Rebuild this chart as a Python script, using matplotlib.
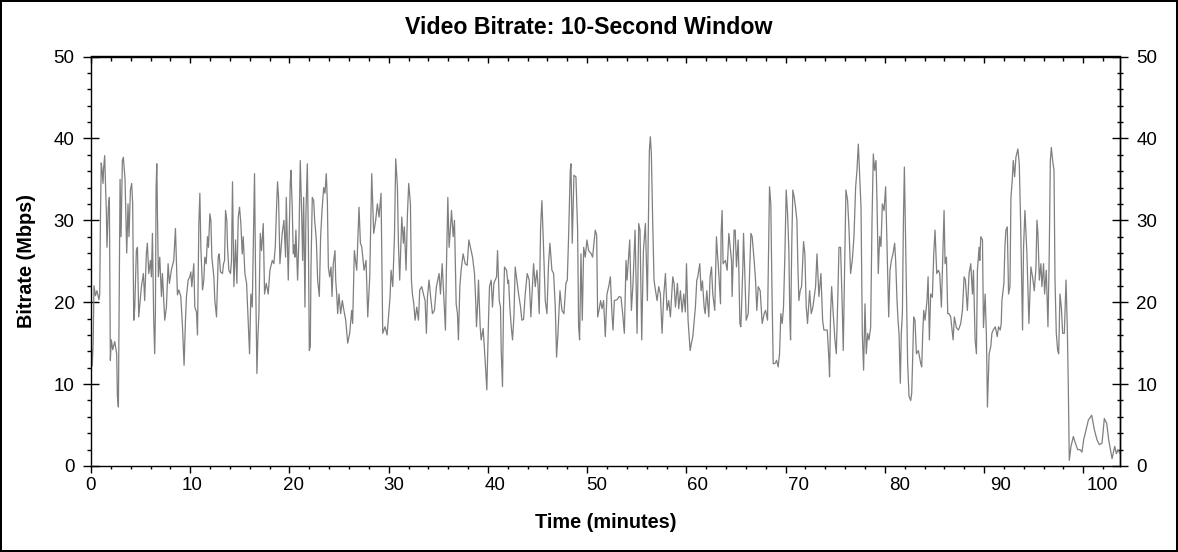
import matplotlib
matplotlib.use("Agg")
import matplotlib.pyplot as plt
from matplotlib.ticker import MultipleLocator

plt.rcParams['font.family'] = ['Liberation Sans', 'DejaVu Sans']

# ---- data: time (minutes) and 10-second-window bitrate (Mbps) ----
t_00 = [0.00,0.12,0.22,0.30,0.45,0.60,0.80,0.88,0.95,1.03,1.11,1.21,1.28,1.38,1.45,1.55,1.61,1.75,1.85,1.95,
        2.05,2.19,2.39,2.59,2.66,2.76,2.83,2.93,3.03,3.16,3.26,3.43,3.60,3.73,3.83,3.97,4.10,4.20,4.31,4.41,
        4.57,4.68,4.81,5.08,5.28,5.41,5.58,5.68,5.82,5.99,6.09,6.19,6.32,6.42,6.49,6.56,6.63,6.69,6.79,6.93,
        7.10,7.20,7.43,7.60,7.77,7.90,8.11,8.34,8.51,8.61,8.71,8.85,9.05,9.22,9.38,9.52,9.62,9.79,9.96]
v_00 = [15.5,12.2,15.0,22.0,20.8,21.4,20.3,21.0,30.0,37.0,36.2,34.5,36.5,37.9,34.8,31.0,26.7,31.6,32.8,12.9,
        15.4,14.2,15.2,13.7,8.5,7.2,19.0,35.0,28.0,37.3,37.7,35.0,26.0,32.0,28.0,33.7,34.5,32.0,17.8,19.4,
        26.3,26.7,18.2,21.9,23.5,20.2,25.9,27.2,23.5,25.1,23.1,28.4,17.8,13.7,18.6,34.0,36.9,31.2,23.1,25.5,
        20.7,23.5,17.8,19.4,24.7,22.3,24.0,25.1,29.0,25.1,20.9,21.5,20.7,17.0,12.3,17.8,20.7,22.7,23.1]

t_10 = [10.06,10.16,10.36,10.46,10.63,10.73,10.87,10.97,11.07,11.24,11.37,11.47,11.61,11.74,11.84,11.98,12.08,12.18,12.38,12.48,
        12.65,12.82,12.92,13.05,13.25,13.36,13.46,13.56,13.69,13.76,13.89,14.06,14.16,14.26,14.40,14.57,14.70,14.84,14.97,15.10,
        15.24,15.34,15.51,15.68,15.78,15.98,16.11,16.25,16.35,16.48,16.58,16.72,16.82,16.92,17.06,17.19,17.36,17.49,17.66,17.86,
        18.03,18.27,18.43,18.57,18.70,18.80,18.90,19.04,19.14,19.27,19.44,19.61,19.68,19.88]
v_10 = [23.7,21.9,24.7,19.4,18.8,16.0,29.6,33.3,26.7,21.5,22.7,25.5,24.7,28.0,26.7,30.8,30.0,25.5,23.1,20.2,
        18.2,25.5,25.9,23.7,23.5,24.7,25.1,31.2,30.0,26.7,23.9,23.5,25.1,34.7,21.9,27.6,22.3,30.4,31.6,29.6,
        25.9,28.0,23.5,22.3,19.4,13.7,21.0,19.4,26.7,35.7,23.9,11.3,15.8,18.6,28.4,26.3,29.6,21.0,22.3,21.0,
        23.9,25.1,24.7,26.7,31.6,34.7,32.8,24.7,26.3,28.4,30.0,25.5,32.8,22.7]

t_20 = [20.08,20.15,20.28,20.38,20.49,20.55,20.65,20.82,20.96,21.09,21.23,21.33,21.43,21.56,21.66,21.80,21.90,22.00,22.10,22.17,
        22.30,22.44,22.54,22.71,22.84,23.01,23.14,23.28,23.45,23.58,23.71,23.82,23.92,24.05,24.19,24.29,24.42,24.59,24.66,24.76,
        24.86,24.99,25.16,25.33,25.46,25.67,25.87,26.07,26.27,26.37,26.54,26.78,27.01,27.15,27.28,27.52,27.72,27.89,28.09,28.29,
        28.49,28.69,28.86,29.03,29.23,29.40,29.63,29.84,30.14]
v_20 = [34.5,36.1,31.6,25.9,27.0,25.5,28.8,22.7,28.0,37.3,30.8,25.1,32.8,19.4,30.8,36.9,28.4,14.1,14.6,24.3,
        32.8,32.4,30.0,27.6,22.7,20.7,28.0,31.2,34.0,33.3,35.7,32.4,24.3,23.1,24.3,20.7,24.7,26.3,22.7,21.0,
        18.6,21.0,18.6,20.2,19.2,17.8,15.0,16.2,19.0,17.4,26.3,23.9,31.6,27.2,26.8,23.9,25.1,18.2,23.1,35.7,
        28.4,30.0,32.0,30.4,33.3,16.2,17.0,16.0,20.7]

t_30 = [30.24,30.41,30.58,30.71,30.88,30.98,31.11,31.32,31.48,31.58,31.75,31.89,32.02,32.19,32.29,32.39,32.53,32.66,32.83,33.00,
        33.13,33.33,33.50,33.67,33.80,33.91,34.07,34.24,34.41,34.61,34.81,35.08,35.22,35.39,35.55,35.72,35.82,35.96,36.09,36.23,
        36.33,36.50,36.63,36.80,36.93,37.03,37.17,37.30,37.50,37.71,37.91,38.08,38.24,38.45,38.65,38.78,38.85,38.98,39.05,39.22,
        39.32,39.52,39.72,39.89,40.06]
v_30 = [23.9,21.9,28.0,37.5,34.1,27.2,22.7,30.4,27.2,29.2,23.9,30.8,34.5,32.0,22.7,21.0,19.8,17.8,19.4,17.8,
        21.5,21.9,21.0,20.2,16.2,20.7,22.7,20.5,18.6,19.0,21.9,23.5,21.0,24.7,20.8,16.6,24.3,32.8,26.7,29.2,
        31.2,28.0,30.0,19.8,18.6,15.4,21.9,23.9,25.9,24.7,24.5,27.6,26.7,25.5,23.5,19.8,17.0,20.2,22.7,17.0,
        15.4,16.8,12.9,9.3,17.8]

t_40 = [40.16,40.33,40.46,40.60,40.73,40.87,40.97,41.14,41.27,41.34,41.47,41.57,41.67,41.88,42.01,42.08,42.21,42.35,42.48,42.62,
        42.75,42.92,43.09,43.29,43.42,43.59,43.76,43.96,44.16,44.33,44.47,44.60,44.77,44.94,45.04,45.17,45.31,45.44,45.58,45.78,
        45.95,46.11,46.25,46.45,46.62,46.79,46.92,47.06,47.26,47.46,47.66,47.86,48.00,48.13,48.30,48.37,48.50,48.67,48.87,49.04,
        49.14,49.24,49.38,49.51,49.65,49.81,49.98,50.15]
v_40 = [21.9,22.7,19.4,22.3,22.7,23.1,26.3,20.2,19.4,14.1,9.7,19.4,24.3,23.9,22.3,22.7,19.4,17.0,15.4,18.2,
        24.3,22.7,21.0,19.4,17.8,17.9,21.0,23.5,22.7,18.2,21.5,24.7,21.9,23.9,22.3,18.6,29.2,32.4,27.6,20.2,
        18.6,24.7,27.2,23.9,23.5,19.4,13.3,16.2,21.4,19.0,18.6,22.3,22.7,28.0,36.1,36.9,27.2,35.5,35.3,28.8,
        17.0,15.4,25.9,17.8,26.7,25.5,27.6,26.3]

t_50 = [50.42,50.55,50.82,50.96,51.06,51.19,51.36,51.50,51.66,51.83,52.00,52.17,52.34,52.50,52.61,52.74,53.01,53.24,53.41,53.58,
        53.75,53.92,54.02,54.29,54.46,54.62,54.83,55.03,55.20,55.33,55.50,55.67,55.87,56.07,56.27,56.37,56.47,56.61,56.74,56.88,
        57.05,57.21,57.38,57.55,57.72,57.89,58.05,58.22,58.39,58.63,58.76,58.90,59.10,59.23,59.40,59.57,59.74,59.90,60.01,60.17,
        60.38]
v_50 = [25.9,25.5,28.8,28.2,18.2,19.0,20.2,19.2,20.2,15.8,21.0,21.9,23.1,18.6,16.6,20.2,20.3,20.7,20.6,18.6,
        16.2,25.1,22.7,27.6,19.0,22.3,28.8,16.2,29.6,28.8,15.4,26.3,29.6,20.2,38.5,40.2,38.1,29.6,22.7,21.5,
        20.2,21.9,21.0,16.2,20.8,23.5,19.0,20.2,18.2,23.1,22.3,19.4,22.3,19.2,21.4,18.8,21.0,18.8,24.7,17.8,
        14.1]

t_60 = [60.51,60.65,60.91,61.05,61.15,61.35,61.48,61.62,61.79,61.89,62.06,62.26,62.39,62.53,62.66,62.86,63.03,63.13,63.27,63.44,
        63.50,63.60,63.70,63.94,64.11,64.28,64.41,64.55,64.61,64.81,64.92,65.05,65.22,65.29,65.39,65.49,65.55,65.69,65.76,65.89,
        66.03,66.23,66.36,66.50,66.63,66.83,66.97,67.10,67.24,67.44,67.64,67.84,67.98,68.18,68.28,68.38,68.51,68.62,68.75,68.92,
        69.09,69.25,69.39,69.52,69.66,69.79,69.93,70.06,70.20,70.33,70.43]
v_60 = [15.0,15.8,19.4,22.7,23.1,24.7,21.4,22.6,19.4,18.6,21.4,18.2,23.1,24.3,21.0,19.0,28.0,26.0,23.5,19.8,
        28.4,31.2,24.7,25.1,23.9,28.4,26.8,25.1,20.7,28.8,28.8,24.3,27.6,23.9,17.4,17.0,19.0,24.3,28.4,23.5,
        17.8,18.6,23.1,28.4,28.0,25.1,22.7,19.0,21.9,21.4,17.4,18.6,19.0,17.8,25.9,34.1,32.0,21.9,12.5,12.5,
        12.9,12.1,13.7,18.6,17.4,19.4,25.9,33.7,30.8,26.3,17.8]

t_70 = [70.50,70.57,70.63,70.73,70.87,71.00,71.14,71.24,71.34,71.47,71.61,71.81,71.94,72.08,72.21,72.42,72.58,72.75,73.02,73.16,
        73.36,73.56,73.73,73.86,74.20,74.37,74.43,74.53,74.64,74.80,74.97,75.11,75.27,75.38,75.54,75.71,75.81,75.95,76.08,76.25,
        76.38,76.55,76.72,76.89,77.06,77.19,77.33,77.46,77.60,77.73,77.86,78.00,78.13,78.27,78.40,78.57,78.71,78.84,78.97,79.11,
        79.21,79.34,79.48,79.61,79.75,79.92,80.08,80.25,80.39]
v_70 = [15.4,22.7,27.6,33.7,32.8,31.6,30.0,24.3,20.2,21.4,21.9,27.4,25.9,19.4,17.4,21.4,18.6,19.4,21.9,25.9,
        20.7,23.5,17.8,16.6,16.6,12.9,10.9,18.6,21.9,18.6,15.4,13.7,21.0,26.7,26.7,19.4,14.1,24.7,33.7,32.4,
        29.2,23.5,25.1,28.0,34.1,36.1,39.3,35.7,31.6,16.2,11.7,19.8,13.7,16.2,15.4,16.9,30.0,38.1,36.1,37.3,
        32.4,23.5,28.0,26.8,32.0,31.2,34.1,25.1,18.2]

t_80 = [80.52,80.66,80.82,80.99,81.09,81.23,81.33,81.43,81.56,81.66,81.77,81.87,81.97,82.07,82.20,82.30,82.44,82.61,82.71,82.81,
        82.91,83.04,83.18,83.38,83.62,83.72,83.82,83.92,84.05,84.25,84.36,84.49,84.62,84.79,84.93,85.06,85.23,85.40,85.53,85.70,
        85.84,85.97,86.07,86.21,86.34,86.47,86.64,86.88,87.01,87.21,87.42,87.65,87.82,87.99,88.12,88.32,88.49,88.66,88.83,88.93,
        89.10,89.23,89.33,89.50,89.57,89.67,89.84,89.94,90.11,90.24,90.34,90.51,90.68]
v_80 = [23.9,25.1,25.9,27.2,25.1,20.2,17.8,16.2,10.1,16.2,18.6,29.6,36.5,29.1,19.4,12.5,8.5,8.0,8.9,13.3,
        18.2,17.8,13.7,14.1,12.5,12.1,16.2,19.0,17.8,20.2,23.1,15.4,21.0,20.6,25.9,28.8,23.5,23.9,23.5,19.4,
        25.5,31.2,24.7,25.5,18.6,18.6,18.2,15.4,18.2,16.9,16.6,17.4,19.0,23.1,22.7,19.0,23.5,24.7,21.0,23.9,
        15.4,13.7,23.9,26.7,25.1,28.0,27.6,16.9,21.0,15.8,7.2,13.7,14.6]

t_90 = [90.79,90.92,91.13,91.33,91.46,91.63,91.73,91.80,92.00,92.10,92.20,92.34,92.47,92.61,92.71,92.84,92.94,93.08,93.21,93.41,
        93.55,93.68,93.88,93.98,94.12,94.32,94.52,94.72,94.89,95.06,95.23,95.33,95.43,95.57,95.73,95.83,96.00,96.10,96.27,96.44,
        96.57,96.68,96.78,96.91,97.05,97.15,97.28,97.42,97.52,97.65,97.79,97.92,98.09,98.26,98.39,98.49,98.59,98.76,99.00,99.20,
        99.43,99.67,99.87,100.04,100.27,100.51,100.85,101.12,101.38,101.62,101.89,102.12,102.36,102.56,102.90,103.17,103.34,103.50,103.70]
v_90 = [16.2,16.6,17.0,15.8,17.0,16.6,17.4,20.2,22.3,26.7,28.8,29.2,21.0,21.9,32.8,34.9,37.3,35.3,37.7,38.7,
        36.9,30.0,16.6,26.7,31.2,25.9,17.4,24.3,23.1,21.4,24.2,30.0,28.4,22.7,24.7,21.9,24.7,21.0,23.9,17.0,
        25.9,37.3,38.9,37.3,36.1,22.7,16.2,14.1,13.7,21.0,19.4,16.2,16.2,22.7,16.9,9.7,0.7,2.4,3.6,2.8,
        2.0,2.0,1.7,3.2,4.4,5.6,6.2,4.4,3.2,2.6,2.8,5.8,5.2,3.2,0.9,2.4,1.5,2.0,1.5]

x_ticks = [0, 10, 20, 30, 40, 50, 60, 70, 80, 90, 100]
y_ticks = [0, 10, 20, 30, 40, 50]

title = "Video Bitrate: 10-Second Window"
x_label = "Time (minutes)"
y_label = "Bitrate (Mbps)"

time_min = t_00 + t_10 + t_20 + t_30 + t_40 + t_50 + t_60 + t_70 + t_80 + t_90
bitrate = v_00 + v_10 + v_20 + v_30 + v_40 + v_50 + v_60 + v_70 + v_80 + v_90

# ---- figure ----
W, H = 1178, 552
fig = plt.figure(figsize=(W / 100, H / 100), dpi=100, edgecolor='black', linewidth=1.5)
L, R, T, B = 91, 1120, 56.5, 466
ax = fig.add_axes([L / W, 1 - B / H, (R - L) / W, (B - T) / H])

ax.plot(time_min, bitrate, color='#7f7f7f', linewidth=0.9)

ax.set_xlim(0, 103.7)
ax.set_ylim(0, 50)
ax.set_xticks(x_ticks)
ax.set_yticks(y_ticks)
ax.xaxis.set_minor_locator(MultipleLocator(2))
ax.yaxis.set_minor_locator(MultipleLocator(2))

for s in ax.spines.values():
    s.set_linewidth(1.0)
    s.set_color('black')

tick_fs = 13.5
ax.tick_params(axis='x', which='major', direction='out', length=5, width=1, labelbottom=False, top=False)
ax.tick_params(axis='x', which='minor', direction='out', length=2.5, width=1, top=False)
ax.tick_params(axis='y', which='major', direction='inout', length=11.5, width=1, labelsize=tick_fs, pad=6, right=False)
ax.tick_params(axis='y', which='minor', direction='out', length=2.8, width=1, right=False)

# bottom tick labels: in the original the label row is spread slightly wider than the tick marks
k = 1.0187
axb = ax.secondary_xaxis('bottom', functions=(lambda x: x / k, lambda x: x * k))
axb.set_xticks(x_ticks)
axb.tick_params(axis='x', which='both', length=0, labelsize=tick_fs, pad=8)
axb.spines['bottom'].set_visible(False)

# top axis: ticks pointing inward
axt = ax.secondary_xaxis('top')
axt.set_xticks(x_ticks)
axt.xaxis.set_minor_locator(MultipleLocator(2))
axt.tick_params(axis='x', which='major', direction='in', length=5, width=1, labeltop=False)
axt.tick_params(axis='x', which='minor', direction='in', length=3.5, width=1)

# right axis: ticks crossing the spine, labels shown
axr = ax.secondary_yaxis('right')
axr.set_yticks(y_ticks)
axr.yaxis.set_minor_locator(MultipleLocator(2))
axr.tick_params(axis='y', which='major', direction='inout', length=11.5, width=1, labelsize=tick_fs, pad=6)
axr.tick_params(axis='y', which='minor', direction='inout', length=4.3, width=1)
for s in list(axt.spines.values()) + list(axr.spines.values()):
    s.set_linewidth(1.0)

ax.set_xlabel(x_label, fontsize=14.3, fontweight='bold', va='center')
ax.xaxis.set_label_coords((606 - L) / (R - L), (B - 523) / (B - T))
ax.set_ylabel(y_label, fontsize=14.3, fontweight='bold', va='center')
ax.yaxis.set_label_coords((27 - L) / (R - L), 0.5)

fig.suptitle(title, x=0.5, y=1 - 27.5 / H, va='center', fontsize=16.7, fontweight='bold')

fig.savefig('out.png', dpi=100)
